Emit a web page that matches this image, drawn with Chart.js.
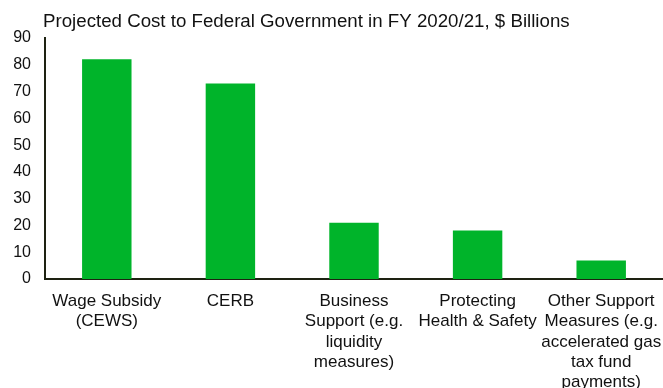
<!DOCTYPE html>
<html>
<head>
<meta charset="utf-8">
<script src="https://cdn.jsdelivr.net/npm/chart.js@4"></script>
<style>
  html, body { margin: 0; padding: 0; background: #fff; }
  #wrap { width: 663px; height: 388px; position: relative; }
</style>
</head>
<body>
<div id="wrap"><canvas id="costChart"></canvas></div>
<script>
// categories (multi-line labels) and projected costs, $ billions
const categories = [
  ["Wage Subsidy", "(CEWS)"],
  ["CERB"],
  ["Business", "Support (e.g.", "liquidity", "measures)"],
  ["Protecting", "Health & Safety"],
  ["Other Support", "Measures (e.g.", "accelerated gas", "tax fund", "payments)"]
];
const costs = [82.1, 73.0, 21.0, 18.1, 6.9];
const yTicks = [0, 10, 20, 30, 40, 50, 60, 70, 80, 90];
const chartTitle = "Projected Cost to Federal Government in FY 2020/21, $ Billions";

const barGreen = "#00b42a";
const axisColor = "#1e2212";
const fontFamily = "Liberation Sans, Arial, sans-serif";

// title sits left-aligned over the plot, not at the canvas edge
const titlePlugin = {
  id: "leftTitle",
  afterDraw(chart) {
    const c = chart.ctx;
    c.save();
    c.font = "18.7px " + fontFamily;
    c.fillStyle = "#111";
    c.textAlign = "left";
    c.textBaseline = "alphabetic";
    c.fillText(chartTitle, 43, 27);
    c.restore();
  }
};

const ctx = document.getElementById("costChart").getContext("2d");

new Chart(ctx, {
  type: "bar",
  data: {
    labels: categories,
    datasets: [
      {
        data: costs,
        backgroundColor: barGreen,
        borderWidth: 0,
        barPercentage: 0.4,
        categoryPercentage: 1.0
      }
    ]
  },
  options: {
    responsive: true,
    maintainAspectRatio: false,
    animation: false,
    layout: {
      padding: { left: 0, right: 0, top: 38, bottom: 0 }
    },
    plugins: {
      legend: { display: false },
      tooltip: { enabled: false },
      title: { display: false }
    },
    scales: {
      y: {
        min: 0,
        max: 90,
        afterBuildTicks: (axis) => {
          axis.ticks = yTicks.map((v) => ({ value: v }));
        },
        afterFit: (axis) => {
          axis.width = 45;
        },
        grid: { display: false, drawTicks: false },
        border: { display: true, color: axisColor, width: 2 },
        ticks: {
          color: "#111",
          padding: 14,
          font: { family: fontFamily, size: 16 }
        }
      },
      x: {
        // let the wide last label run to the canvas edge instead of shrinking the plot
        afterFit: (axis) => {
          axis.height = 109;
          axis.paddingLeft = 0;
          axis.paddingRight = 0;
        },
        grid: { display: false, drawTicks: false },
        border: { display: true, color: axisColor, width: 2 },
        ticks: {
          color: "#111",
          padding: 12,
          autoSkip: false,
          maxRotation: 0,
          minRotation: 0,
          font: { family: fontFamily, size: 17, lineHeight: 1.2 }
        }
      }
    }
  },
  plugins: [titlePlugin]
});
</script>
</body>
</html>
